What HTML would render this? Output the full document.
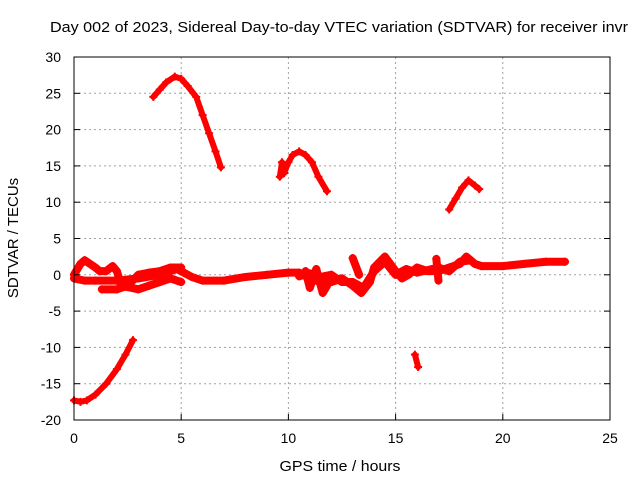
<!DOCTYPE html>
<html><head><meta charset="utf-8"><style>
body{margin:0;background:#fff}
svg{font-family:"Liberation Sans",sans-serif}
</style></head><body>
<svg id="chart" width="640" height="480">
<rect width="640" height="480" fill="#fff"/>
<text x="339" y="32" font-size="15" text-anchor="middle" textLength="578" lengthAdjust="spacingAndGlyphs">Day 002 of 2023, Sidereal Day-to-day VTEC variation (SDTVAR) for receiver invr</text>
<text x="340" y="471" font-size="15" text-anchor="middle" textLength="121" lengthAdjust="spacingAndGlyphs">GPS time / hours</text>
<text transform="translate(18,238) rotate(-90)" font-size="15" text-anchor="middle">SDTVAR / TECUs</text>
<g id="grid"></g><g id="marks"></g><g id="axes"></g>
</svg>
<script>
const xTicks=[0,5,10,15,20,25];
const yTicks=[-20,-15,-10,-5,0,5,10,15,20,25,30];
const seriesNeg=[[0,-17.3],[0.3,-17.5],[0.6,-17.3],[1,-16.5],[1.5,-15],[2,-13],[2.4,-11],[2.75,-9]];
const seriesPeak=[[3.7,24.5],[4,25.5],[4.3,26.5],[4.7,27.3],[5,27],[5.3,26],[5.7,24.5],[6,22],[6.3,19.5],[6.6,17],[6.85,14.8]];
const seriesMid=[[9.6,13.5],[9.7,15.5],[9.8,14],[10,15.5],[10.2,16.5],[10.5,17],[10.8,16.5],[11.1,15.5],[11.4,13.5],[11.8,11.5]];
const seriesLate=[[17.5,9],[17.8,10.5],[18.1,12],[18.4,13],[18.7,12.3],[18.9,11.8]];
const seriesDip=[[15.9,-11],[16.05,-12.7]];
const seriesZero=[[0,-0.5],[0.5,-0.8],[1,-0.8],[2,-0.8],[3,-0.5],[4,0],[4.8,0.8],[5.5,-0.3],[6,-0.8],[7,-0.8],[8,-0.3],[9,0],[10,0.3],[10.5,0.3],[11,-0.5],[11.5,-1],[12,-1],[12.5,-0.5],[13,-1.5],[13.4,-2.5],[13.8,-1],[14,1],[14.5,2.5],[15,0.5],[15.3,-0.5],[15.6,0],[16,1],[16.5,0.5],[17,0.5],[17.5,1],[18,1.5],[18.3,2.5],[18.7,1.5],[19,1.2],[20,1.2],[21,1.5],[22,1.8],[22.9,1.8]];
const seriesZero2=[[0,0],[0.3,1.5],[0.5,2],[1,1],[1.2,0.5],[1.5,0.5],[1.8,1.2],[2,0.5],[2.2,-1.5],[3,-2],[3.5,-1.5],[4,-1],[4.5,-0.5],[5,-1]];
const seriesZero3=[[1.3,-2],[2,-2],[2.5,-1.5],[3,0],[3.5,0.3],[4,0.5],[4.5,1],[5,1]];
const seriesZero4=[[10.5,-0.2],[11,0.2],[11.5,-0.3],[12,0],[12.5,-1],[13,-1],[13.5,-1.8],[14,0.5],[14.5,1.8],[15,0],[15.5,0.8],[16,0.3],[17,1],[17.5,0.5],[18,1.8],[18.5,2]];
const seriesSpike1=[[13,2.3],[13.3,0]];
const seriesSpike2=[[10.8,0.5],[11,-1.8],[11.3,0.8],[11.6,-2.5],[12,-0.5]];
const seriesSpike3=[[16.9,2.2],[17,-0.8]];
const NS="http://www.w3.org/2000/svg";
const X0=74,X1=610,Y0=420,Y1=57;
const sx=h=>X0+(h-0)/25*(X1-X0);
const sy=v=>Y0-(v+20)/50*(Y0-Y1);
function mk(t,a,p){const e=document.createElementNS(NS,t);for(const k in a)e.setAttribute(k,a[k]);p.appendChild(e);return e;}
const grid=document.getElementById('grid'),axes=document.getElementById('axes'),marks=document.getElementById('marks');
xTicks.forEach(t=>{const x=sx(t);
 if(t>0&&t<25){const l=mk('line',{x1:x,x2:x,y1:Y1,y2:Y0,stroke:'#a0a0a0','stroke-dasharray':'2,3'},grid);
 
 }
 mk('line',{x1:x,x2:x,y1:Y0,y2:Y0-6,stroke:'#000'},axes);
 const tx=mk('text',{x:x,y:Y0+23,'font-size':14,'text-anchor':'middle'},axes);tx.textContent=t;
 
 });
yTicks.forEach(t=>{const y=sy(t);
 if(t>-20&&t<30){const l=mk('line',{x1:X0,x2:X1,y1:y,y2:y,stroke:'#a0a0a0','stroke-dasharray':'2,3'},grid);
 
 }
 mk('line',{x1:X0,x2:X0+6,y1:y,y2:y,stroke:'#000'},axes);
 mk('line',{x1:X1,x2:X1-6,y1:y,y2:y,stroke:'#000'},axes);
 const tx=mk('text',{x:X0-13,y:y+5,'font-size':14,'text-anchor':'end'},axes);tx.textContent=t;
 
 });
const fr=mk('rect',{x:X0,y:Y1,width:X1-X0,height:Y0-Y1,fill:'none',stroke:'#000'},axes);


const all=[seriesNeg,seriesPeak,seriesMid,seriesLate,seriesDip,seriesZero,seriesZero2,seriesZero3,seriesZero4,seriesSpike1,seriesSpike2,seriesSpike3];
all.forEach((s,i)=>{
 const w=i>=5?8:6;
 const pl=mk('polyline',{points:s.map(p=>sx(p[0])+','+sy(p[1])).join(' '),fill:'none',stroke:'#f00','stroke-width':w,'stroke-linejoin':'round','stroke-linecap':'round'},marks);
 
 
 s.forEach(p=>{const x=sx(p[0]),y=sy(p[1]);
  const m=mk('path',{d:`M${x-4},${y}H${x+4}M${x},${y-4}V${y+4}`,stroke:'#f00','stroke-width':2},marks);
  
  });
});
</script>
</body></html>
